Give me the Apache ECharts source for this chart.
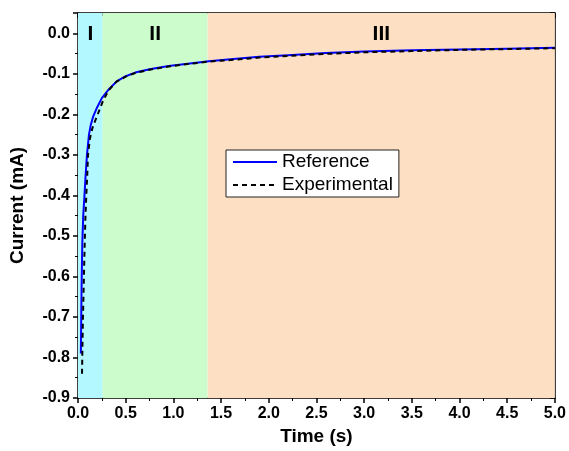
<!DOCTYPE html>
<html>
<head>
<meta charset="utf-8">
<script src="https://cdn.jsdelivr.net/npm/echarts@6/dist/echarts.min.js"></script>
<style>
  html, body { margin: 0; padding: 0; background: #fff; }
  #chart { width: 569px; height: 451px; }
</style>
</head>
<body>
<div id="chart"></div>
<script>
// region boundaries (s) and their labels
const regionNames = ['I', 'II', 'III']
const regionStart = [0, 0.258, 1.36]
const regionEnd = [0.258, 1.36, 5.0]
const regionColors = ['#b3f7ff', '#ccfccc', '#fde0c4']

// reference curve
const refTime = [0.030, 0.034, 0.038, 0.045, 0.055, 0.068, 0.080, 0.094, 0.115, 0.135, 0.16, 0.20, 0.25, 0.32, 0.41, 0.50, 0.60, 0.75, 0.95, 1.15, 1.37, 1.6, 1.9, 2.2, 2.6, 3.0, 3.5, 4.0, 4.5, 5.0]
const refCurrent = [-0.79, -0.70, -0.62, -0.52, -0.45, -0.40, -0.35, -0.30, -0.25, -0.225, -0.205, -0.183, -0.16, -0.139, -0.118, -0.106, -0.097, -0.089, -0.081, -0.075, -0.069, -0.064, -0.058, -0.054, -0.049, -0.045, -0.042, -0.040, -0.038, -0.036]

// experimental curve
const expTime = [0.042, 0.046, 0.052, 0.060, 0.068, 0.077, 0.087, 0.097, 0.105, 0.125, 0.15, 0.17, 0.21, 0.26, 0.32, 0.40, 0.50, 0.60, 0.75, 0.95, 1.15, 1.37, 1.6, 1.9, 2.2, 2.6, 3.0, 3.5, 4.0, 4.5, 5.0]
const expCurrent = [-0.84, -0.78, -0.70, -0.62, -0.54, -0.46, -0.40, -0.35, -0.30, -0.26, -0.235, -0.222, -0.198, -0.168, -0.141, -0.120, -0.107, -0.098, -0.090, -0.082, -0.076, -0.070, -0.066, -0.060, -0.056, -0.051, -0.047, -0.044, -0.041, -0.039, -0.037]

const pairs = (xs, ys) => xs.map((x, i) => [x, ys[i]])

const axisFont = { color: '#000', fontFamily: 'Liberation Sans, Arial, sans-serif', fontWeight: 'bold', fontSize: 16 }
const frameLine = { show: true, onZero: false, lineStyle: { color: '#000', width: 1.5 } }

const chart = echarts.init(document.getElementById('chart'))
chart.setOption({
  animation: false,
  grid: { left: 77, right: 13, top: 13, bottom: 48 },
  legend: {
    left: 226,
    top: 150,
    orient: 'vertical',
    backgroundColor: '#fff',
    borderColor: '#222',
    borderWidth: 1,
    borderRadius: 0,
    padding: [2, 6, 2, 6],
    itemGap: 3,
    itemWidth: 44,
    itemHeight: 14,
    itemStyle: { opacity: 0 },
    textStyle: { color: '#000', fontSize: 19, fontFamily: 'Liberation Sans, Arial, sans-serif', lineHeight: 20 },
    data: ['Reference', 'Experimental']
  },
  xAxis: [{
    type: 'value',
    min: 0,
    max: 5,
    interval: 0.5,
    name: 'Time (s)',
    nameLocation: 'middle',
    nameGap: 29,
    nameTextStyle: Object.assign({}, axisFont, { fontSize: 19 }),
    axisLine: frameLine,
    axisTick: { show: true, length: 5, lineStyle: { color: '#000', width: 1.5 } },
    minorTick: { show: true, splitNumber: 2, length: 3, lineStyle: { color: '#000', width: 1 } },
    axisLabel: Object.assign({}, axisFont, { margin: 8, formatter: v => v.toFixed(1) }),
    splitLine: { show: false }
  }, {
    type: 'value',
    position: 'top',
    min: 0,
    max: 5,
    interval: 0.5,
    axisLine: frameLine,
    axisTick: { show: true, inside: true, length: 5, lineStyle: { color: '#000', width: 1.5 } },
    minorTick: { show: true, splitNumber: 2, length: 3, lineStyle: { color: '#000', width: 1 } },
    axisLabel: { show: false },
    splitLine: { show: false }
  }],
  yAxis: [{
    type: 'value',
    min: -0.9,
    max: 0.05,
    interval: 0.1,
    name: 'Current (mA)',
    nameLocation: 'middle',
    nameGap: 51,
    nameTextStyle: Object.assign({}, axisFont, { fontSize: 19 }),
    axisLine: frameLine,
    axisTick: { show: true, length: 5, lineStyle: { color: '#000', width: 1.5 } },
    minorTick: { show: true, splitNumber: 2, length: 3, lineStyle: { color: '#000', width: 1 } },
    axisLabel: Object.assign({}, axisFont, { margin: 8, showMaxLabel: false, formatter: v => v.toFixed(1) }),
    splitLine: { show: false }
  }, {
    type: 'value',
    position: 'right',
    min: -0.9,
    max: 0.05,
    interval: 0.1,
    axisLine: frameLine,
    axisTick: { show: true, inside: true, length: 5, lineStyle: { color: '#000', width: 1.5 } },
    minorTick: { show: true, splitNumber: 2, length: 3, lineStyle: { color: '#000', width: 1 } },
    axisLabel: { show: false },
    splitLine: { show: false }
  }],
  series: [{
    name: 'Reference',
    type: 'line',
    symbol: 'none',
    z: 3,
    data: pairs(refTime, refCurrent),
    lineStyle: { color: '#0000ff', width: 2 },
    itemStyle: { color: '#0000ff' },
    markArea: {
      silent: true,
      data: regionNames.map((n, i) => [{
        name: n,
        xAxis: regionStart[i],
        itemStyle: { color: regionColors[i] },
        label: {
          show: true,
          position: 'insideTop',
          distance: 11,
          color: '#000',
          fontSize: 21,
          fontWeight: 'bold',
          fontFamily: 'Liberation Sans, Arial, sans-serif'
        }
      }, { xAxis: regionEnd[i] }])
    }
  }, {
    name: 'Experimental',
    type: 'line',
    symbol: 'none',
    z: 4,
    data: pairs(expTime, expCurrent),
    lineStyle: { color: '#000', width: 2, type: [5, 4] },
    itemStyle: { color: '#000' }
  }]
})
</script>
</body>
</html>
